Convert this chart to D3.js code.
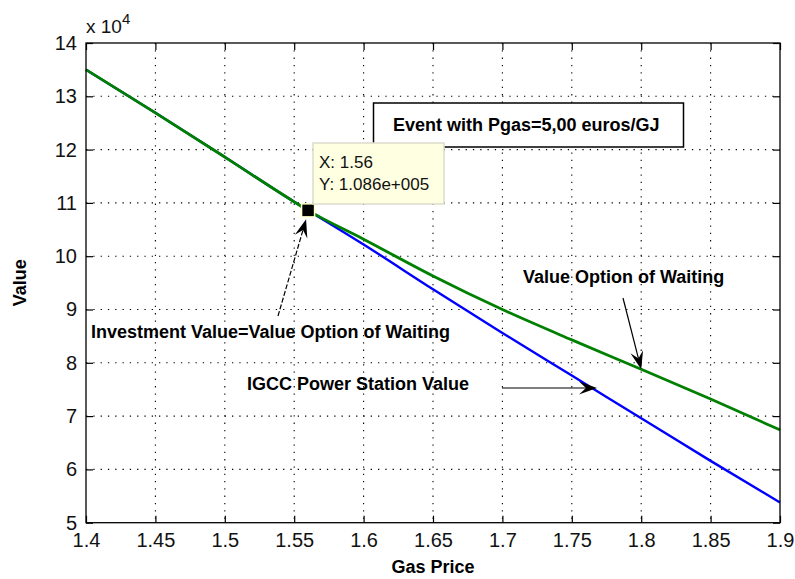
<!DOCTYPE html>
<html>
<head>
<meta charset="utf-8">
<script src="https://cdn.jsdelivr.net/npm/d3@7"></script>
<style>
  body { margin: 0; background: #fff; }
  svg { display: block; }
  text { font-family: "Liberation Sans", Arial, sans-serif; }
</style>
</head>
<body>
<script>
// values
const gasPrice     = [1.4, 1.45, 1.5, 1.55, 1.56, 1.6, 1.65, 1.7, 1.75, 1.8, 1.85, 1.9];
const waitingValue = [135000, 126900, 118600, 110200, 108600, 103200, 96300, 90000, 84300, 78800, 73200, 67400];
const igccValue    = [135000, 126900, 118600, 110200, 108600, 102200, 93800, 85600, 77600, 69600, 61600, 53800];
const xTickValues  = [1.4, 1.45, 1.5, 1.55, 1.6, 1.65, 1.7, 1.75, 1.8, 1.85, 1.9];
const yTickValues  = [50000, 60000, 70000, 80000, 90000, 100000, 110000, 120000, 130000, 140000];
const tipX = 1.56, tipY = 108600;

const W = 795, H = 579;
const L = 86, R = 780, T = 43, B = 522.7;

const svg = d3.select('body').append('svg')
  .attr('width', W)
  .attr('height', H);

const x = d3.scaleLinear().domain([1.4, 1.9]).range([L, R]);
const y = d3.scaleLinear().domain([50000, 140000]).range([B, T]);

// dotted grid
const grid = svg.append('g')
  .attr('stroke', '#000')
  .attr('stroke-width', 1.1)
  .attr('stroke-dasharray', '1.3,6');
grid.selectAll('.gx')
  .data(xTickValues.slice(1, -1))
  .enter().append('line')
  .attr('x1', d => x(d)).attr('x2', d => x(d))
  .attr('y1', T).attr('y2', B);
grid.selectAll('.gy')
  .data(yTickValues.slice(1, -1))
  .enter().append('line')
  .attr('x1', L).attr('x2', R)
  .attr('y1', d => y(d)).attr('y2', d => y(d));

// curves
const line = d3.line()
  .x((d, i) => x(gasPrice[i]))
  .y(d => y(d))
  .curve(d3.curveMonotoneX);

svg.append('path')
  .datum(igccValue)
  .attr('fill', 'none')
  .attr('stroke', '#0000ff')
  .attr('stroke-width', 2.4)
  .attr('d', line);

svg.append('path')
  .datum(waitingValue)
  .attr('fill', 'none')
  .attr('stroke', '#008000')
  .attr('stroke-width', 2.8)
  .attr('d', line);

// axes, ticks pointing inside on all four sides
const fmtX = d => String(+d.toFixed(2));
const fmtY = d => String(d / 1e4);

function styleAxis(g) {
  g.select('.domain').remove();
  g.selectAll('line').attr('stroke', '#000').attr('stroke-width', 1.2);
  g.selectAll('text')
    .attr('fill', '#111')
    .style('font-size', '20px');
}

svg.append('g')
  .attr('transform', `translate(0,${B})`)
  .call(d3.axisBottom(x).tickValues(xTickValues).tickFormat(fmtX).tickSize(-7).tickPadding(10))
  .call(styleAxis);

svg.append('g')
  .attr('transform', `translate(0,${T})`)
  .call(d3.axisTop(x).tickValues(xTickValues).tickFormat('').tickSize(-7))
  .call(styleAxis);

svg.append('g')
  .attr('transform', `translate(${L},0)`)
  .call(d3.axisLeft(y).tickValues(yTickValues).tickFormat(fmtY).tickSize(-7).tickPadding(9))
  .call(styleAxis);

svg.append('g')
  .attr('transform', `translate(${R},0)`)
  .call(d3.axisRight(y).tickValues(yTickValues).tickFormat('').tickSize(-7))
  .call(styleAxis);

svg.append('rect')
  .attr('x', L).attr('y', T)
  .attr('width', R - L).attr('height', B - T)
  .attr('fill', 'none')
  .attr('stroke', '#000')
  .attr('stroke-width', 1.3);

// exponent label
const expo = svg.append('text')
  .attr('x', L)
  .attr('y', 33)
  .attr('fill', '#111')
  .style('font-size', '19px');
expo.append('tspan').text('x 10');
expo.append('tspan').attr('dy', -9).style('font-size', '15px').text('4');

// axis titles
svg.append('text')
  .attr('x', (L + R) / 2)
  .attr('y', 573)
  .attr('text-anchor', 'middle')
  .style('font-size', '18px')
  .style('font-weight', 'bold')
  .text('Gas Price');

svg.append('text')
  .attr('transform', `translate(26,${(T + B) / 2}) rotate(-90)`)
  .attr('text-anchor', 'middle')
  .style('font-size', '18px')
  .style('font-weight', 'bold')
  .text('Value');

// event box
svg.append('rect')
  .attr('x', 373.5).attr('y', 103)
  .attr('width', 310).attr('height', 44)
  .attr('fill', '#fff')
  .attr('stroke', '#000')
  .attr('stroke-width', 1.5);
svg.append('text')
  .attr('x', 393).attr('y', 131)
  .style('font-size', '18px')
  .style('font-weight', 'bold')
  .text('Event with Pgas=5,00 euros/GJ');

// data tip
const mx = x(tipX), my = y(tipY);
svg.append('rect')
  .attr('x', mx - 6.5).attr('y', my - 6.5)
  .attr('width', 13).attr('height', 13)
  .attr('fill', '#000')
  .attr('stroke', '#ffffc8')
  .attr('stroke-width', 1.5);

svg.append('rect')
  .attr('x', 313).attr('y', 143)
  .attr('width', 131).attr('height', 61)
  .attr('fill', '#ffffe1')
  .attr('stroke', '#dcdccc')
  .attr('stroke-width', 1.5);
svg.append('text')
  .attr('x', 319).attr('y', 168)
  .style('font-size', '17px')
  .attr('fill', '#111')
  .text('X: ' + tipX);
svg.append('text')
  .attr('x', 319).attr('y', 190)
  .style('font-size', '17px')
  .attr('fill', '#111')
  .text('Y: ' + (tipY / 1e5).toFixed(3) + 'e+005');

// annotation texts
const notes = svg.append('g')
  .style('font-size', '18px')
  .style('font-weight', 'bold');
notes.append('text').attr('x', 523).attr('y', 283).text('Value Option of Waiting');
notes.append('text').attr('x', 91).attr('y', 338).text('Investment Value=Value Option of Waiting');
notes.append('text').attr('x', 247).attr('y', 390).text('IGCC Power Station Value');

// arrows
function arrow(x1, y1, x2, y2, dash) {
  const a = Math.atan2(y2 - y1, x2 - x1);
  const c = Math.cos(a), s = Math.sin(a);
  const len = 18, half = 6.5, notch = 11;
  svg.append('line')
    .attr('x1', x1).attr('y1', y1)
    .attr('x2', x2 - notch * c).attr('y2', y2 - notch * s)
    .attr('stroke', '#000')
    .attr('stroke-width', 1.2)
    .attr('stroke-dasharray', dash || null);
  const pts = [
    [x2, y2],
    [x2 - len * c - half * s, y2 - len * s + half * c],
    [x2 - notch * c, y2 - notch * s],
    [x2 - len * c + half * s, y2 - len * s - half * c]
  ];
  svg.append('path')
    .attr('d', 'M' + pts.join('L') + 'Z')
    .attr('fill', '#000');
}

arrow(278, 316, mx - 2, my + 9, '5,2');
arrow(623, 298, x(1.8), y(78800));
arrow(502, 388, 597, 388);
</script>
</body>
</html>
